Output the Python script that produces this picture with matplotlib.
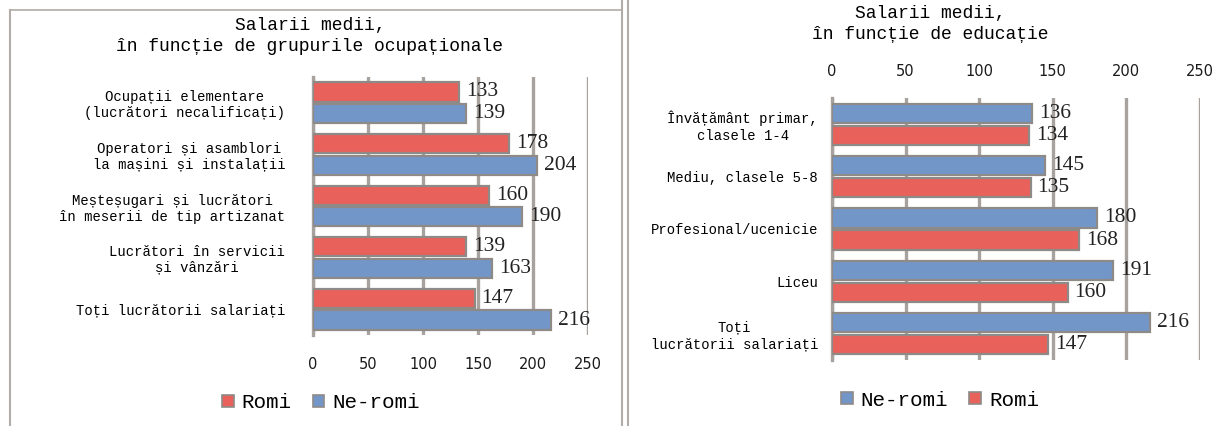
import matplotlib.pyplot as plt
from matplotlib.font_manager import FontProperties
from matplotlib.lines import Line2D
from matplotlib.patches import Patch

# occupational groups (left panel)
occ_labels = ['Ocupații elementare\n(lucrători necalificați)',
              'Operatori și asamblori\nla mașini și instalații',
              'Meșteșugari și lucrători\nîn meserii de tip artizanat',
              'Lucrători în servicii\nși vânzări',
              'Toți lucrătorii salariați']
occ_romi = [133, 178, 160, 139, 147]
occ_neromi = [139, 204, 190, 163, 216]

# education levels (right panel)
edu_labels = ['Învățământ primar,\nclasele 1-4',
              'Mediu, clasele 5-8',
              'Profesional/ucenicie',
              'Liceu',
              'Toți\nlucrătorii salariați']
edu_neromi = [136, 145, 180, 191, 216]
edu_romi = [134, 135, 168, 160, 147]

ticks = [0, 50, 100, 150, 200, 250]

RED = '#E8615A'
BLUE = '#7396C9'
EDGE = '#8E8A88'
GRID = '#A8A29E'
MONO = ['Liberation Mono', 'DejaVu Sans Mono']
SERIF = ['Liberation Serif', 'DejaVu Serif']

fig = plt.figure(figsize=(12.25, 4.26), dpi=100)


def draw_panel(ax, labels, top_vals, top_col, bot_vals, bot_col, h, off, ypad):
    ys = list(range(len(labels)))
    for vals, col, d in ((top_vals, top_col, -off), (bot_vals, bot_col, off)):
        pos = [y + d for y in ys]
        ax.barh(pos, vals, height=h, color=col, edgecolor=EDGE, linewidth=1.6, zorder=3)
        for p, v in zip(pos, vals):
            ax.annotate(str(v), (v, p), xytext=(5, 0), textcoords='offset points',
                        va='center', ha='left', fontsize=15.5, family=SERIF,
                        color='#222222', zorder=4)
    ax.set_xlim(0, 250)
    ax.set_ylim(len(labels) - 0.5, -0.5)
    ax.set_xticks(ticks)
    ax.set_yticks(ys)
    ax.set_yticklabels(labels, family=MONO, fontsize=10, multialignment='center')
    ax.tick_params(axis='y', length=0, pad=ypad)
    ax.tick_params(axis='x', length=0, labelsize=10.5, colors='#1a1a1a')
    ax.grid(axis='x', color=GRID, linewidth=2.4, zorder=0)
    for s in ('top', 'right', 'bottom'):
        ax.spines[s].set_visible(False)
    ax.spines['left'].set_color(GRID)
    ax.spines['left'].set_linewidth(2.4)


# left panel
ax1 = fig.add_axes([313 / 1225, 1 - 335 / 426, 275 / 1225, 258 / 426])
draw_panel(ax1, occ_labels, occ_romi, RED, occ_neromi, BLUE, 0.37, 0.21, 20)
ax1.tick_params(axis='x', pad=16)
fig.text(310 / 1225, 1 - 36 / 426, 'Salarii medii,\nîn funcție de grupurile ocupaționale',
         ha='center', va='center', family=MONO, fontsize=13, linespacing=1.35)

# right panel
ax2 = fig.add_axes([832 / 1225, 1 - 360 / 426, 368 / 1225, 262 / 426])
draw_panel(ax2, edu_labels, edu_neromi, BLUE, edu_romi, RED, 0.37, 0.21, 10)
ax2.xaxis.tick_top()
ax2.tick_params(axis='x', pad=14)
fig.text(930 / 1225, 1 - 24 / 426, 'Salarii medii,\nîn funcție de educație',
         ha='center', va='center', family=MONO, fontsize=13, linespacing=1.3)


def legend_handles(pairs):
    return [Patch(facecolor=c, edgecolor=EDGE, linewidth=1.2, label=l) for l, c in pairs]


leg_font = FontProperties(family=MONO, size=15)
for pairs, cx, cy in (([('Romi', RED), ('Ne-romi', BLUE)], 321, 403),
                      ([('Ne-romi', BLUE), ('Romi', RED)], 940, 400)):
    fig.legend(handles=legend_handles(pairs), loc='center',
               bbox_to_anchor=(cx / 1225, 1 - cy / 426), ncol=2, frameon=False,
               prop=leg_font, handlelength=0.55, handleheight=0.55,
               handletextpad=0.4, columnspacing=1.0)

# panel frames
frame = '#B3ABA5'
fig.add_artist(Line2D([10 / 1225, 10 / 1225], [0, 1 - 10 / 426], color=frame, lw=1.5))
fig.add_artist(Line2D([10 / 1225, 622 / 1225], [1 - 10 / 426, 1 - 10 / 426], color=frame, lw=1.2))
fig.add_artist(Line2D([622 / 1225, 622 / 1225], [0, 1], color=frame, lw=1.5))
fig.add_artist(Line2D([628 / 1225, 628 / 1225], [0, 1], color=frame, lw=1.5))

fig.savefig('out.png', dpi=100)
